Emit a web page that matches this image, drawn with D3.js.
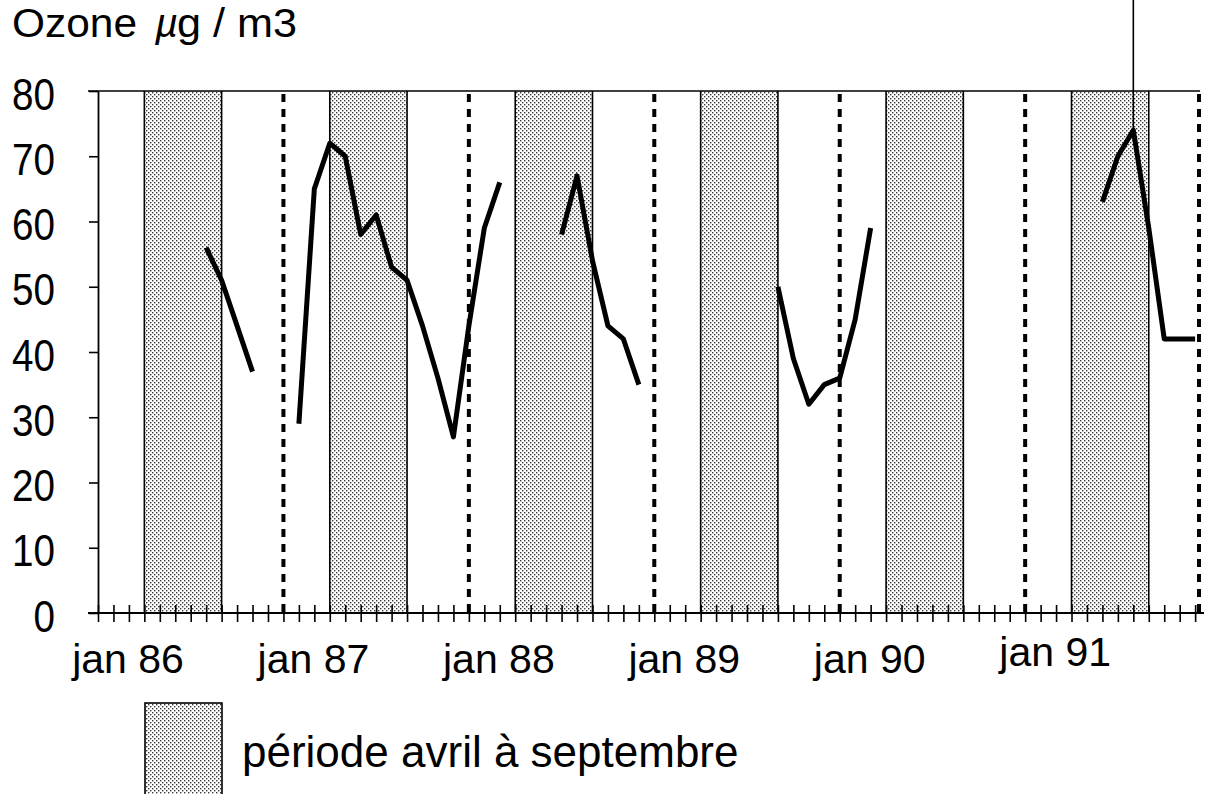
<!DOCTYPE html>
<html><head><meta charset="utf-8">
<script src="https://cdn.jsdelivr.net/npm/d3@7"></script>
<style>
html,body{margin:0;padding:0;background:#fff;}
svg{display:block;}
text{font-family:"Liberation Sans",Arial,Helvetica,sans-serif;fill:#000;}
</style>
</head><body><svg id="c" width="1209" height="794"></svg>
<script>
// ---- data ----
const titleParts = ["Ozone", "µ", "g / m3"];
const yTickValues = [0, 10, 20, 30, 40, 50, 60, 70, 80];
const yearLabels = ["jan 86", "jan 87", "jan 88", "jan 89", "jan 90", "jan 91"];
const yearStartMonths = [0, 12, 24, 36, 48, 60];      // month index, 0 = jan 86
const summerStart = [3, 15, 27, 39, 51, 63];          // avril
const summerEnd = [8, 20, 32, 44, 56, 68];            // septembre
const axisEndMonth = 71.25;
const legendLabel = "période avril à septembre";
// monthly ozone (µg/m3), jan 86 .. dec 91
const ozone = [
  null, null, null, null, null, null, null, 56, 51, 44, 37, null,   // 1986
  null, 29, 65, 72, 70, 58, 61, 53, 51, 44, 36, 27,                 // 1987
  44, 59, 66, null, null, null, 58, 67, 54, 44, 42, 35,             // 1988
  null, null, null, null, null, null, null, null, 50, 39, 32, 35,   // 1989
  36, 45, 59, null, null, null, null, null, null, null, null, null, // 1990
  null, null, null, null, null, 63, 70, 74, 59, 42, 42, 42          // 1991
];

// ---- chart ----
const svg = d3.select("#c");
const x = d3.scaleLinear().domain([0, axisEndMonth]).range([98, 1199]);
const y = d3.scaleLinear().domain([0, 80]).range([613, 91]);

const defs = svg.append("defs");
const pat = defs.append("pattern").attr("id", "dots")
  .attr("width", 4).attr("height", 4).attr("patternUnits", "userSpaceOnUse");
pat.append("rect").attr("width", 4).attr("height", 4).attr("fill", "#fff");
pat.append("rect").attr("x", 0).attr("y", 0).attr("width", 1.4).attr("height", 1.4).attr("fill", "#3a3a3a");
pat.append("rect").attr("x", 2).attr("y", 2).attr("width", 1.4).attr("height", 1.4).attr("fill", "#3a3a3a");

// shaded periods
const periods = summerStart.map((s, i) => ({ s, e: summerEnd[i] }));
svg.append("g").selectAll("rect").data(periods).join("rect")
  .attr("x", d => x(d.s)).attr("y", y(80))
  .attr("width", d => x(d.e) - x(d.s)).attr("height", y(0) - y(80))
  .attr("fill", "url(#dots)");
// solid borders of shaded periods
svg.append("g").selectAll("line").data(periods.flatMap(d => [d.s, d.e])).join("line")
  .attr("x1", d => x(d)).attr("x2", d => x(d))
  .attr("y1", y(80)).attr("y2", y(0))
  .attr("stroke", "#000").attr("stroke-width", 1.6);

// dashed year lines
svg.append("g").selectAll("line").data(yearStartMonths.slice(1).concat([axisEndMonth])).join("line")
  .attr("x1", d => x(d)).attr("x2", d => x(d))
  .attr("y1", y(80) + 3).attr("y2", y(0))
  .attr("stroke", "#000").attr("stroke-width", 4)
  .attr("stroke-dasharray", "8,7");

// top frame
svg.append("line").attr("x1", 88).attr("x2", x(axisEndMonth) + 1)
  .attr("y1", y(80)).attr("y2", y(80)).attr("stroke", "#000").attr("stroke-width", 1.6);

// y axis
const yAxis = d3.axisLeft(y).tickValues(yTickValues).tickSize(9).tickSizeOuter(0).tickFormat("");
const gy = svg.append("g").attr("transform", `translate(${x(0)},0)`).call(yAxis);
gy.select(".domain").attr("stroke", "#000").attr("stroke-width", 1.8);
gy.selectAll(".tick line").attr("stroke", "#000").attr("stroke-width", 1.6);
svg.append("g").selectAll("text").data(yTickValues).join("text")
  .attr("x", d => 55 - String(d).length * 21.5)
  .attr("y", d => y(d) + 18.5)
  .attr("font-size", 44)
  .attr("textLength", d => String(d).length * 21.5)
  .attr("lengthAdjust", "spacingAndGlyphs")
  .text(d => d);

// x axis (monthly cross ticks)
const xAxis = d3.axisBottom(x).tickValues(d3.range(0, Math.floor(axisEndMonth) + 1))
  .tickSize(9).tickSizeOuter(0).tickFormat("");
const gx = svg.append("g").attr("transform", `translate(0,${y(0)})`).call(xAxis);
gx.select(".domain").remove();
gx.selectAll(".tick line").attr("y1", -8).attr("y2", 9).attr("stroke", "#000").attr("stroke-width", 1.6);
svg.append("line").attr("x1", 88).attr("x2", 1204).attr("y1", y(0)).attr("y2", y(0))
  .attr("stroke", "#000").attr("stroke-width", 2);

// year labels
svg.append("g").selectAll("text").data(yearLabels).join("text")
  .attr("x", (d, i) => x(yearStartMonths[i]) + 30)
  .attr("y", (d, i) => i === yearLabels.length - 1 ? 666 : 673)
  .attr("text-anchor", "middle")
  .attr("font-size", 41)
  .text(d => d);

// ozone line
const series = ozone.map((v, m) => ({ m, v }));
const line = d3.line().defined(d => d.v != null).x(d => x(d.m)).y(d => y(d.v));
svg.append("path").datum(series).attr("d", line)
  .attr("fill", "none").attr("stroke", "#000").attr("stroke-width", 5)
  .attr("stroke-linejoin", "round").attr("stroke-linecap", "butt");

// vertical leader line at the 1991 peak
const peak = series.slice(60).reduce((a, b) => (b.v != null && b.v > a.v ? b : a), { v: -1 });
svg.append("line").attr("x1", x(peak.m)).attr("x2", x(peak.m))
  .attr("y1", 0).attr("y2", y(peak.v)).attr("stroke", "#000").attr("stroke-width", 1.6);

// title
svg.append("text").attr("x", 12).attr("y", 37).attr("font-size", 40)
  .attr("textLength", 125).attr("lengthAdjust", "spacingAndGlyphs").text(titleParts[0]);
svg.append("text").attr("x", 155).attr("y", 37).attr("font-size", 40)
  .attr("font-style", "italic").text(titleParts[1]);
svg.append("text").attr("x", 177).attr("y", 37).attr("font-size", 40)
  .attr("textLength", 120).attr("lengthAdjust", "spacingAndGlyphs").text(titleParts[2]);

// legend
svg.append("rect").attr("x", 145).attr("y", 703).attr("width", 77).attr("height", 100)
  .attr("fill", "url(#dots)").attr("stroke", "#000").attr("stroke-width", 1.6);
svg.append("text").attr("x", 242).attr("y", 767).attr("font-size", 44).text(legendLabel);
</script>
</body></html>
